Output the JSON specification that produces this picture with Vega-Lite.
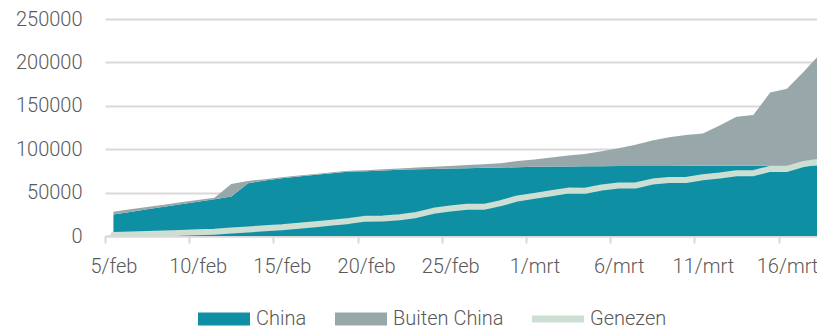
{
  "$schema": "https://vega.github.io/schema/vega-lite/v6.json",
  "width": 712,
  "height": 217,
  "autosize": {"type": "none"},
  "padding": {"left": 105, "top": 19, "right": 0, "bottom": 91},
  "background": "white",
  "config": {"view": {"stroke": null}, "font": "Roboto"},
  "data": {"values": [
    {"date": "2020-02-05", "China": 24800, "Buiten China": 3200, "Genezen": 1200},
    {"date": "2020-02-06", "China": 27700, "Buiten China": 3000, "Genezen": 1700},
    {"date": "2020-02-07", "China": 30700, "Buiten China": 2700, "Genezen": 2300},
    {"date": "2020-02-08", "China": 33600, "Buiten China": 2500, "Genezen": 2900},
    {"date": "2020-02-09", "China": 36600, "Buiten China": 2200, "Genezen": 3600},
    {"date": "2020-02-10", "China": 39500, "Buiten China": 2000, "Genezen": 4300},
    {"date": "2020-02-11", "China": 42400, "Buiten China": 1800, "Genezen": 5000},
    {"date": "2020-02-12", "China": 45400, "Buiten China": 14600, "Genezen": 6300},
    {"date": "2020-02-13", "China": 60800, "Buiten China": 2700, "Genezen": 7500},
    {"date": "2020-02-14", "China": 64000, "Buiten China": 1500, "Genezen": 8800},
    {"date": "2020-02-15", "China": 66500, "Buiten China": 1200, "Genezen": 10000},
    {"date": "2020-02-16", "China": 68500, "Buiten China": 1100, "Genezen": 11800},
    {"date": "2020-02-17", "China": 70500, "Buiten China": 1000, "Genezen": 13500},
    {"date": "2020-02-18", "China": 72400, "Buiten China": 1000, "Genezen": 15400},
    {"date": "2020-02-19", "China": 74200, "Buiten China": 1000, "Genezen": 17400},
    {"date": "2020-02-20", "China": 74600, "Buiten China": 1100, "Genezen": 20000},
    {"date": "2020-02-21", "China": 75500, "Buiten China": 1300, "Genezen": 20200},
    {"date": "2020-02-22", "China": 76300, "Buiten China": 1600, "Genezen": 21500},
    {"date": "2020-02-23", "China": 76900, "Buiten China": 2000, "Genezen": 24300},
    {"date": "2020-02-24", "China": 77200, "Buiten China": 2500, "Genezen": 29000},
    {"date": "2020-02-25", "China": 77700, "Buiten China": 3000, "Genezen": 31600},
    {"date": "2020-02-26", "China": 78100, "Buiten China": 3600, "Genezen": 33800},
    {"date": "2020-02-27", "China": 78500, "Buiten China": 4300, "Genezen": 33600},
    {"date": "2020-02-28", "China": 78800, "Buiten China": 5100, "Genezen": 37800},
    {"date": "2020-02-29", "China": 79300, "Buiten China": 7200, "Genezen": 43300},
    {"date": "2020-03-01", "China": 79800, "Buiten China": 8400, "Genezen": 46200},
    {"date": "2020-03-02", "China": 80000, "Buiten China": 10500, "Genezen": 49300},
    {"date": "2020-03-03", "China": 80200, "Buiten China": 12600, "Genezen": 52300},
    {"date": "2020-03-04", "China": 80300, "Buiten China": 14300, "Genezen": 52100},
    {"date": "2020-03-05", "China": 80400, "Buiten China": 17100, "Genezen": 55800},
    {"date": "2020-03-06", "China": 80600, "Buiten China": 20500, "Genezen": 58100},
    {"date": "2020-03-07", "China": 80700, "Buiten China": 24300, "Genezen": 58200},
    {"date": "2020-03-08", "China": 80700, "Buiten China": 29200, "Genezen": 62700},
    {"date": "2020-03-09", "China": 80700, "Buiten China": 33100, "Genezen": 64500},
    {"date": "2020-03-10", "China": 80800, "Buiten China": 35700, "Genezen": 64600},
    {"date": "2020-03-11", "China": 80800, "Buiten China": 37200, "Genezen": 67700},
    {"date": "2020-03-12", "China": 80800, "Buiten China": 46600, "Genezen": 69600},
    {"date": "2020-03-13", "China": 80800, "Buiten China": 56700, "Genezen": 72300},
    {"date": "2020-03-14", "China": 80800, "Buiten China": 58700, "Genezen": 72400},
    {"date": "2020-03-15", "China": 80800, "Buiten China": 84400, "Genezen": 77300},
    {"date": "2020-03-16", "China": 80900, "Buiten China": 88600, "Genezen": 77200},
    {"date": "2020-03-17", "China": 80900, "Buiten China": 108600, "Genezen": 83000},
    {"date": "2020-03-18", "China": 80900, "Buiten China": 129600, "Genezen": 86000}
  ]},
  "layer": [
    {
      "transform": [{"fold": ["China", "Buiten China"], "as": ["series", "value"]}],
      "mark": {"type": "area", "clip": true, "interpolate": "linear"},
      "encoding": {
        "x": {
          "field": "date", "type": "temporal",
          "scale": {"type": "utc", "domain": [1580817600000, 1584470592000]},
          "axis": {
            "title": null,
            "values": [1580860800000, 1581292800000, 1581724800000, 1582156800000, 1582588800000, 1583020800000, 1583452800000, 1583884800000, 1584316800000],
            "labelExpr": "utcdate(datum.value) + '/' + (utcmonth(datum.value) == 1 ? 'feb' : 'mrt')",
            "tickOffset": -8.42,
            "labelOffset": 8.42,
            "grid": false,
            "domainColor": "#d9d9d9", "domainWidth": 2,
            "tickColor": "#d9d9d9", "tickWidth": 2, "tickSize": 7,
            "labelPadding": 13,
            "labelFontSize": 20, "labelFont": "Roboto", "labelFontWeight": 300,
            "labelColor": "#595959",
            "labelOverlap": false, "labelFlush": false, "labelBound": false
          }
        },
        "y": {
          "field": "value", "type": "quantitative", "stack": "zero",
          "scale": {"domain": [0, 250000], "nice": false},
          "axis": {
            "title": null,
            "values": [0, 50000, 100000, 150000, 200000, 250000],
            "format": "d",
            "grid": true, "gridColor": "#d9d9d9", "gridWidth": 2,
            "domain": false, "ticks": false, "tickSize": 0,
            "labelPadding": 23,
            "labelFontSize": 20, "labelFont": "Roboto", "labelFontWeight": 300,
            "labelColor": "#595959"
          }
        },
        "color": {
          "field": "series", "type": "nominal",
          "scale": {"domain": ["China", "Buiten China", "Genezen"], "range": ["#0f8fa3", "#98a7a9", "#cddfd3"]},
          "legend": {
            "title": null,
            "orient": "none",
            "legendX": 93,
            "legendY": 274,
            "direction": "horizontal",
            "columns": 3,
            "padding": 0,
            "symbolSize": 2704,
            "symbolType": "M-1,-0.25H1V0.25H-1Z",
            "symbolStrokeWidth": 0,
            "labelFontSize": 20, "labelFont": "Roboto", "labelFontWeight": 300,
            "labelColor": "#595959",
            "labelOffset": 6,
            "columnPadding": 28,
            "labelLimit": 300,
            "encode": {
              "symbols": {
                "update": {
                  "shape": {"signal": "datum.value === 'Genezen' ? 'M-1,-0.13H1V0.13H-1Z' : 'M-1,-0.25H1V0.25H-1Z'"},
                  "fill": {"scale": "color", "field": "value"},
                  "stroke": {"value": "transparent"},
                  "strokeWidth": {"value": 0},
                  "opacity": {"value": 1}
                }
              }
            }
          }
        },
        "order": {"field": "series", "sort": "descending"}
      }
    },
    {
      "transform": [{"fold": ["Genezen"], "as": ["series", "value"]}],
      "mark": {"type": "line", "clip": true, "strokeWidth": 6, "strokeCap": "round", "strokeJoin": "round"},
      "encoding": {
        "x": {"field": "date", "type": "temporal"},
        "y": {"field": "value", "type": "quantitative"},
        "color": {"field": "series", "type": "nominal"}
      }
    }
  ]
}
